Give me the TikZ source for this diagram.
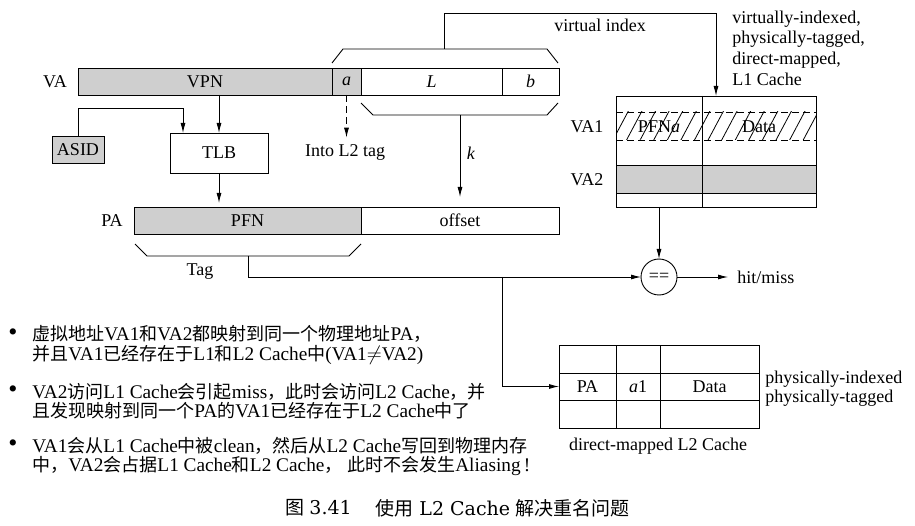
\documentclass[tikz,border=0pt]{standalone}
\usepackage{fontspec}
\setmainfont{Liberation Serif}
\newfontfamily\cjkfont{Noto Sans CJK SC}
\newfontfamily\capserif{DejaVu Serif}
\newcommand\zh[1]{\smash{\cjkfont\fontsize{18}{19}\selectfont #1}}
\usetikzlibrary{arrows.meta,patterns.meta,calc}

\begin{document}
\begin{tikzpicture}[x=1pt,y=-1pt,
  line width=0.9pt,
  lbl/.style={font=\fontsize{18}{21}\selectfont, inner sep=0pt},
  fld/.style={draw, minimum height=27pt, inner sep=0pt, outer sep=0pt, font=\fontsize{18}{21}\selectfont},
  shaded/.style={fill=black!19},
  arr/.style={-{Latex[length=10pt,width=5pt]}},
  dsh/.style={dash pattern=on 7pt off 4pt},
  bultxt/.style={font=\fontsize{19.3}{19}\selectfont, anchor=base west, inner sep=0pt},
  bulmark/.style={font=\fontsize{26}{26}\selectfont, inner sep=0pt},
  capzh/.style={font=\cjkfont\fontsize{19}{19}\selectfont, anchor=west, inner sep=0pt},
  caplat/.style={font=\capserif\fontsize{19}{19}\selectfont, anchor=west, inner sep=0pt},
]
\useasboundingbox (0,0) rectangle (915,526);

% ---------- VA bar ----------
\node[lbl] (va) at (55,82) {VA};
\node[fld,shaded,minimum width=254pt] (vpn) at (205,81.5) {VPN};
\node[fld,shaded,minimum width=29pt] (fa) at (346.5,81.5) {\textit{a}};
\node[fld,minimum width=141pt] (fL) at (431.5,81.5) {\textit{L}};
\node[fld,minimum width=57pt] (fb) at (530.5,81.5) {\textit{b}};

% brackets
\draw (332,63) -- (343,49) -- (547,49) -- (558,63);
\draw (361,103) -- (373,115) -- (547,115) -- (558,103);
\coordinate (vi) at (444,49);
\coordinate (kb) at (460,115);

% ---------- ASID / TLB ----------
\node[fld,shaded,minimum width=52pt] (asid) at (78,149.5) {ASID};
\node[fld,minimum width=98pt,minimum height=40pt] (tlb) at (219,153) {TLB};
\draw[arr] (asid.north) -- ++(0,-28) -| ([xshift=-36pt]tlb.north);
\draw[arr] (vpn.south -| tlb.north) -- (tlb.north);

\node[lbl] (into) at (345,152) {Into L2 tag};
\draw[arr,dsh,shorten >=6pt] (fa.south) -- (fa.south |- into.north);

% ---------- PA bar ----------
\node[lbl] (pa) at (112,221) {PA};
\node[fld,shaded,minimum width=227pt] (pfn) at (247.5,220.5) {PFN};
\node[fld,minimum width=198pt] (off) at (460,220.5) {offset};
\draw[arr,shorten >=4pt] (tlb.south) -- (tlb.south |- pfn.north);
\draw[arr,shorten >=10pt] (kb) -- (kb |- off.north);
\node[lbl] (klbl) at (471,153) {\textit{k}};

% tag bracket
\draw (135,244) -- (147,256) -- (349,256) -- (361,244);
\coordinate (tagb) at (248,256);
\node[lbl] (tag) at (200,272) {Tag};

% ---------- L1 cache ----------
\fill[black!19] (616,165) rectangle (816,193);
\fill[pattern={Lines[angle=62,distance=12pt,line width=0.8pt]}] (616,112) rectangle (816,140);
\node[draw,minimum width=200pt,minimum height=111pt,inner sep=0pt,outer sep=0pt] (l1) at (716,151.5) {};
\draw (702,96) -- (702,207);
\draw[dsh] (616,112) -- (816,112) (616,140) -- (816,140);
\draw (616,165) -- (816,165) (616,193) -- (816,193);
\node[lbl] (pfna) at (659,127) {PFN\textit{a}};
\node[lbl] (d1) at (759,127) {Data};
\node[lbl] (va1) at (587,127) {VA1};
\node[lbl] (va2) at (587,180) {VA2};

\draw[arr] (vi) -- ++(0,-36) -| (l1.north);
\node[lbl] (vil) at (600,25) {virtual index};
\node[lbl,align=left,anchor=west,font=\fontsize{18}{20.7}\selectfont] (l1d) at (732,48)
  {virtually-indexed,\\physically-tagged,\\direct-mapped,\\L1 Cache};

% ---------- comparator ----------
\node[draw,circle,minimum size=36pt,inner sep=0pt,outer sep=0pt,font=\fontsize{18}{18}\selectfont] (cmp) at (659,277) {==};
\draw[arr] (l1.south -| cmp.north) -- (cmp.north);
\draw[arr] (tagb) |- (cmp.west);
\node[lbl,anchor=west] (hm) at (737,277) {hit/miss};
\draw[arr,shorten >=9pt] (cmp.east) -- (hm.west);

% ---------- L2 cache ----------
\node[draw,minimum width=200pt,minimum height=83pt,inner sep=0pt,outer sep=0pt] (l2) at (659,386.5) {};
\draw (559,373) -- (759,373) (559,400) -- (759,400) (616,345) -- (616,428) (660,345) -- (660,428);
\node[lbl] (l2pa) at (587.5,387) {PA};
\node[lbl] (l2a) at (638,387) {\textit{a}1};
\node[lbl] (l2d) at (709.5,387) {Data};
\node[lbl,align=left,anchor=west,font=\fontsize{18}{19}\selectfont] (l2desc) at (765,388.5)
  {physically-indexed\\physically-tagged};
\node[lbl] (l2cap) at (658,446) {direct-mapped L2 Cache};
\coordinate (br) at (502,277);
\draw[arr] (br) |- (l2.west);

% ---------- bullets ----------
\node[bulmark] (m1) at (13,335) {\textbullet};
\node[bulmark] (m2) at (13,392) {\textbullet};
\node[bulmark] (m3) at (13,446) {\textbullet};
\node[bultxt] (t11) at (32,341) {\zh{虚拟地址}VA1\zh{和}VA2\zh{都映射到同一个物理地址}PA\zh{，}};
\node[bultxt] (t12) at (32,360) {\zh{并且}VA1\zh{已经存在于}L1\zh{和}L2 Cache\zh{中}(VA1$\neq$VA2)};
\node[bultxt] (t21) at (32,398) {VA2\zh{访问}L1 Cache\zh{会引起}miss\zh{，此时会访问}L2 Cache\zh{，并}};
\node[bultxt] (t22) at (32,417) {\zh{且发现映射到同一个}PA\zh{的}VA1\zh{已经存在于}L2 Cache\zh{中了}};
\node[bultxt] (t31) at (32,452) {VA1\zh{会从}L1 Cache\zh{中被}clean\zh{，然后从}L2 Cache\zh{写回到物理内存}};
\node[bultxt] (t32) at (32,471) {\zh{中，}VA2\zh{会占据}L1 Cache\zh{和}L2 Cache\zh{，} \zh{此时不会发生}Aliasing\,!};

% ---------- caption ----------
\node[capzh] (c1) at (285,508) {图};
\node[caplat] (c2) at (309,508) {3.41};
\node[capzh] (c3) at (375,508) {使用};
\node[caplat] (c4) at (419,508) {L2 Cache};
\node[capzh] (c5) at (515,508) {解决重名问题};
\end{tikzpicture}
\end{document}
